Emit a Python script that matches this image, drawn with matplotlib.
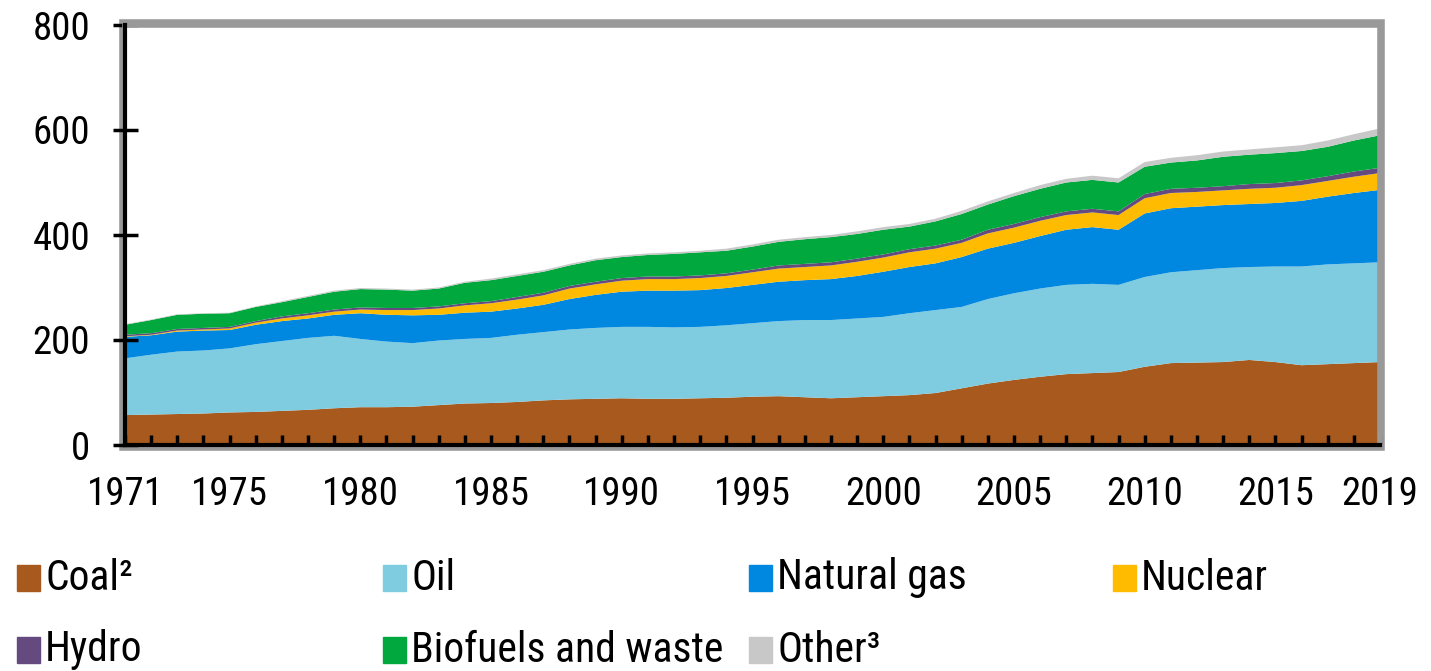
import matplotlib.pyplot as plt
import numpy as np
from matplotlib.patches import Rectangle

# data (stack components per year)
years = list(range(1971, 2020))

coal = [57, 58, 59, 60, 62, 63, 65, 67, 70, 72,
        72, 73, 76, 79, 80, 82, 85, 87, 88, 89,
        88, 88, 89, 90, 92, 93, 91, 89, 91, 93,
        95, 99, 108, 117, 124, 130, 135, 137, 139, 149,
        156, 157, 158, 162, 158, 152, 154, 156, 158]
oil_top = [165, 172, 178, 180, 184, 192, 198, 204, 208, 202,
           197, 194, 199, 202, 204, 210, 215, 220, 223, 225,
           225, 224, 225, 228, 232, 236, 238, 238, 241, 244,
           251, 257, 263, 278, 289, 298, 305, 307, 305, 320,
           329, 333, 337, 339, 340, 340, 344, 346, 348]
gas_top = [206, 209, 216, 218, 219, 229, 236, 241, 248, 251,
           248, 247, 248, 252, 254, 260, 267, 278, 286, 292,
           294, 294, 295, 299, 305, 311, 314, 316, 322, 330,
           339, 346, 358, 374, 385, 398, 410, 415, 410, 441,
           451, 454, 457, 459, 461, 465, 473, 480, 486]
nuclear = [1, 1, 2, 2, 3, 4, 5, 6, 6, 7,
           9, 10, 12, 14, 16, 17, 18, 20, 20, 21,
           22, 22, 23, 23, 24, 25, 25, 26, 27, 27,
           28, 28, 27, 29, 29, 29, 28, 28, 28, 29,
           29, 28, 28, 29, 29, 30, 30, 31, 32]
hydro = [3, 3, 3, 3, 3, 3, 4, 4, 4, 4,
         4, 4, 4, 4, 4, 5, 5, 5, 5, 5,
         5, 5, 5, 5, 5, 6, 6, 6, 6, 6,
         6, 6, 6, 7, 7, 7, 7, 7, 7, 8,
         8, 8, 8, 9, 9, 9, 9, 10, 10]
green_top = [229, 238, 248, 250, 251, 263, 272, 282, 292, 297,
             296, 294, 298, 309, 314, 322, 330, 342, 352, 358,
             362, 364, 367, 370, 378, 387, 392, 396, 402, 410,
             416, 426, 440, 458, 474, 488, 500, 505, 500, 530,
             538, 542, 549, 553, 556, 560, 568, 580, 590]
other = [1, 1, 1, 1, 1, 1, 2, 2, 2, 2,
         2, 2, 2, 2, 3, 3, 3, 3, 3, 3,
         3, 3, 3, 4, 4, 4, 4, 4, 5, 5,
         5, 5, 6, 6, 6, 7, 7, 8, 8, 9,
         9, 10, 10, 10, 11, 11, 12, 12, 13]

oil = np.array(oil_top) - np.array(coal)
gas = np.array(gas_top) - np.array(oil_top)
biofuels = np.array(green_top) - (np.array(gas_top) + np.array(nuclear) + np.array(hydro))

labels = ['Coal\u00b2', 'Oil', 'Natural gas', 'Nuclear', 'Hydro', 'Biofuels and waste', 'Other\u00b3']
colors = ['#A85A1E', '#7FCCE0', '#0088E0', '#FFBB00', '#644A7E', '#00A83E', '#C8C8C8']
tick_years = [1971, 1975, 1980, 1985, 1990, 1995, 2000, 2005, 2010, 2015, 2019]

# narrow sans like the original, falling back to Liberation Sans
plt.rcParams['font.family'] = ['Roboto Condensed', 'Archivo Narrow', 'Liberation Sans']

W, H = 1431, 671
fig = plt.figure(figsize=(W / 100, H / 100), dpi=100)
ax = fig.add_axes([125 / W, (H - 445) / H, (1380 - 125) / W, (445 - 25) / H])

ax.stackplot(years, coal, oil, gas, nuclear, hydro, biofuels, other,
             colors=colors, linewidth=0)

ax.set_xlim(1971, 2019)
ax.set_ylim(0, 800)
ax.set_yticks([0, 200, 400, 600, 800])
ax.set_xticks(years)
ax.set_xticklabels([str(y) if y in tick_years else '' for y in years])

ax.tick_params(axis='y', direction='inout', length=18, width=2.5, pad=16,
               labelsize=28, color='black')
ax.tick_params(axis='x', direction='in', length=7, width=2.5, pad=22,
               labelsize=28, color='black')

for s in ['top', 'right']:
    ax.spines[s].set_color('#999999')
    ax.spines[s].set_linewidth(4)
for s in ['left', 'bottom']:
    ax.spines[s].set_color('black')
    ax.spines[s].set_linewidth(3)
    ax.spines[s].set_zorder(5)

# grey outer frame behind the black axes lines
frame = Rectangle((122 / W, (H - 448) / H), (1382 - 122) / W, (448 - 22) / H,
                  transform=fig.transFigure, fill=False, ec='#999999', lw=4,
                  zorder=-1)
fig.patches.append(frame)

# legend, laid out by hand in 4 columns
col_x = [17, 383, 749, 1113]
row_y = [578, 650]
for i, (lab, col) in enumerate(zip(labels, colors)):
    r, c = divmod(i, 4)
    x, y = col_x[c], row_y[r]
    fig.patches.append(Rectangle((x / W, (H - y - 13) / H), 23 / W, 26 / H,
                                 transform=fig.transFigure, color=col))
    fig.text((x + 28) / W, (H - y) / H, lab, fontsize=30, va='center', ha='left')

fig.savefig('out.png', dpi=100)
